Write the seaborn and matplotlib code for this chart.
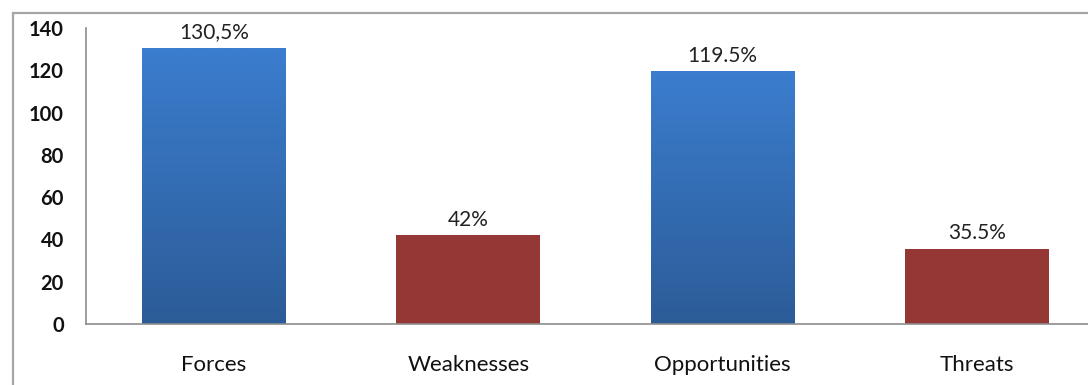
import numpy as np
import pandas as pd
import matplotlib
matplotlib.use("Agg")
import matplotlib.pyplot as plt
from matplotlib.patches import Rectangle
from matplotlib.colors import LinearSegmentedColormap
import seaborn as sns

categories = ["Forces", "Weaknesses", "Opportunities", "Threats"]
values = [130.5, 42, 119.5, 35.5]
value_labels = ["130,5%", "42%", "119.5%", "35.5%"]
y_ticks = [0, 20, 40, 60, 80, 100, 120, 140]

blue_top, blue_bottom = "#3B7DCE", "#2C5C98"
red = "#953735"
bar_colors = [blue_top, red, blue_top, red]

sns.set_theme(style="white")
plt.rcParams["font.family"] = ["Lato", "DejaVu Sans"]

df = pd.DataFrame({"category": categories, "value": values})

fig = plt.figure(figsize=(10.88, 3.85), dpi=100)
ax = fig.add_axes([86 / 1088, 61 / 385, 1 - 86 / 1088, 296 / 385])

sns.barplot(data=df, x="category", y="value", hue="category",
            palette=bar_colors, width=0.566, legend=False, ax=ax,
            saturation=1)

# vertical gradient on the blue bars
grad = LinearSegmentedColormap.from_list("bluegrad", [blue_bottom, blue_top])
for patch, c in zip(ax.patches, bar_colors):
    patch.set_edgecolor("none")
    if c == blue_top:
        x0, y0 = patch.get_x(), patch.get_y()
        w, h = patch.get_width(), patch.get_height()
        img = ax.imshow(np.linspace(0, 1, 256).reshape(-1, 1), cmap=grad,
                        origin="lower", aspect="auto",
                        extent=[x0, x0 + w, y0, y0 + h], zorder=patch.get_zorder())
        img.set_clip_path(patch)
        patch.set_facecolor("none")

for i, (v, lab) in enumerate(zip(values, value_labels)):
    ax.annotate(lab, (i, v), xytext=(0, 4), textcoords="offset points",
                ha="center", va="bottom", fontsize=15, color="#222222")

ax.set_xlim(-0.503, 3.437)
ax.set_ylim(0, 140)
ax.set_yticks(y_ticks)
ax.set_yticklabels([str(t) for t in y_ticks], fontsize=14.5, fontweight="bold",
                   color="#111111")
ax.tick_params(axis="y", length=0, pad=16)
ax.tick_params(axis="x", length=0, pad=22, labelsize=16, labelcolor="#111111")
ax.set_xlabel("")
ax.set_ylabel("")
for side in ["top", "right"]:
    ax.spines[side].set_visible(False)
for side in ["left", "bottom"]:
    ax.spines[side].set_color("#8C8C8C")
    ax.spines[side].set_linewidth(1.2)

# outer chart frame
fig.add_artist(Rectangle((13 / 1088, -0.1), 1.2, 0.1 + (385 - 13) / 385,
                         transform=fig.transFigure, fill=False,
                         edgecolor="#A6A6A6", linewidth=1.6))

fig.savefig("out.png", dpi=100)
